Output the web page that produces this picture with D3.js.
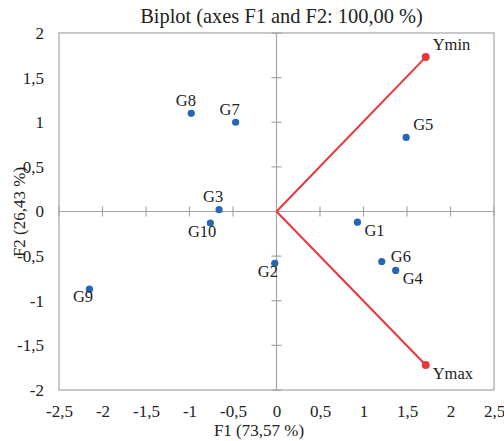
<!DOCTYPE html>
<html><head><meta charset="utf-8">
<script src="https://cdn.jsdelivr.net/npm/d3@7"></script>
<style>
body{margin:0;background:#fff;}
svg text{font-family:"Liberation Serif","Times New Roman",serif;fill:#222;}
</style></head>
<body><svg id="c" width="504" height="441"></svg>
<script>
// Observations
const obsNames = ["G1","G2","G3","G4","G5","G6","G7","G8","G9","G10"];
const obsF1 = [0.93,-0.02,-0.66,1.37,1.49,1.21,-0.47,-0.98,-2.15,-0.76];
const obsF2 = [-0.12,-0.58,0.02,-0.66,0.83,-0.56,1.00,1.10,-0.87,-0.13];
// Variables
const varNames = ["Ymin","Ymax"];
const varF1 = [1.715,1.715];
const varF2 = [1.73,-1.72];
// Ticks
const xTicks = [-2.5,-2,-1.5,-1,-0.5,0,0.5,1,1.5,2,2.5];
const yTicks = [-2,-1.5,-1,-0.5,0,0.5,1,1.5,2];
const title = "Biplot (axes F1 and F2: 100,00 %)";
const xTitle = "F1 (73,57 %)";
const yTitle = "F2 (26,43 %)";
// label offsets (style)
const obsLabelOff = [[7,14],[-17,13.5],[-16,-7.5],[7,14],[7,-7],[9,1],[-16,-7.5],[-15.5,-7.5],[-16.5,12.5],[-22.5,14]];
const varLabelOff = [[7,-7],[7,13.5]];

const svg = d3.select("#c");
const L=59,R=494,T=33,B=390;
const x = d3.scaleLinear().domain([-2.5,2.5]).range([L,R]);
const y = d3.scaleLinear().domain([-2,2]).range([B,T]);
const loc = d3.formatLocale({decimal:",",thousands:".",grouping:[3],currency:["",""],minus:"-"});
const fmt = loc.format("~g");
const gray="#a6a6a6";
const serif='"Liberation Serif","Times New Roman",serif';

svg.append("text").attr("x",281.5).attr("y",23).attr("text-anchor","middle")
  .style("font-size","20.4px").text(title);

// frame
svg.append("rect").attr("x",L).attr("y",T).attr("width",R-L).attr("height",B-T)
  .attr("fill","none").attr("stroke",gray).attr("stroke-width",1.2);
// zero lines
svg.append("line").attr("x1",L).attr("x2",R).attr("y1",y(0)).attr("y2",y(0)).attr("stroke",gray).attr("stroke-width",1.2);
svg.append("line").attr("x1",x(0)).attr("x2",x(0)).attr("y1",T).attr("y2",B).attr("stroke",gray).attr("stroke-width",1.2);
// cross ticks
svg.append("g").selectAll("line").data(xTicks.filter(d=>d!==0)).join("line")
  .attr("x1",d=>x(d)).attr("x2",d=>x(d)).attr("y1",y(0)-5).attr("y2",y(0)+5).attr("stroke",gray).attr("stroke-width",1.2);
svg.append("g").selectAll("line").data(yTicks.filter(d=>d!==0)).join("line")
  .attr("y1",d=>y(d)).attr("y2",d=>y(d)).attr("x1",x(0)-5).attr("x2",x(0)+5).attr("stroke",gray).attr("stroke-width",1.2);

// tick labels via axes
const ax = svg.append("g").attr("transform",`translate(0,${B})`)
  .call(d3.axisBottom(x).tickValues(xTicks).tickFormat(fmt).tickSize(0).tickPadding(15));
ax.attr("font-family",serif).attr("font-size",17);
ax.select(".domain").remove();
ax.selectAll("text").attr("font-family",serif).style("font-family",serif).style("font-size","17px").attr("fill","#222");
const ay = svg.append("g").attr("transform",`translate(${L},0)`)
  .call(d3.axisLeft(y).tickValues(yTicks).tickFormat(fmt).tickSize(0).tickPadding(15));
ay.attr("font-family",serif).attr("font-size",17);
ay.select(".domain").remove();
ay.selectAll("text").attr("font-family",serif).style("font-family",serif).style("font-size","17px").attr("fill","#222");

svg.append("text").attr("x",259).attr("y",436).attr("text-anchor","middle").style("font-size","17px").text(xTitle);
svg.append("text").attr("transform","translate(24.5,212) rotate(-90)").attr("text-anchor","middle").style("font-size","17px").text(yTitle);

// variable vectors
const red="#e8363c";
varNames.forEach((n,i)=>{
  svg.append("line").attr("x1",x(0)).attr("y1",y(0)).attr("x2",x(varF1[i])).attr("y2",y(varF2[i]))
    .attr("stroke",red).attr("stroke-width",2);
});
svg.append("g").selectAll("circle").data(varNames).join("circle")
  .attr("cx",(d,i)=>x(varF1[i])).attr("cy",(d,i)=>y(varF2[i])).attr("r",4).attr("fill",red);
svg.append("g").selectAll("text").data(varNames).join("text")
  .attr("x",(d,i)=>x(varF1[i])+varLabelOff[i][0]).attr("y",(d,i)=>y(varF2[i])+varLabelOff[i][1])
  .style("font-size","16.5px").text(d=>d);

// observations
const blue="#2566b5";
svg.append("g").selectAll("circle").data(obsNames).join("circle")
  .attr("cx",(d,i)=>x(obsF1[i])).attr("cy",(d,i)=>y(obsF2[i])).attr("r",3.6).attr("fill",blue);
svg.append("g").selectAll("text").data(obsNames).join("text")
  .attr("x",(d,i)=>x(obsF1[i])+obsLabelOff[i][0]).attr("y",(d,i)=>y(obsF2[i])+obsLabelOff[i][1])
  .style("font-size","16.5px").text(d=>d);
</script></body></html>
